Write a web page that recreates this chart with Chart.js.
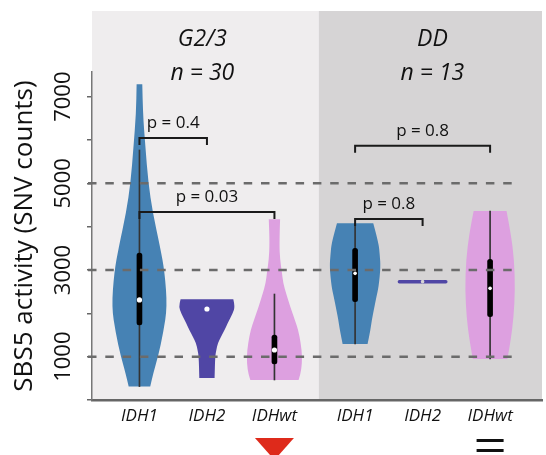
<!DOCTYPE html>
<html><head><meta charset="utf-8">
<script src="https://cdn.jsdelivr.net/npm/chart.js@4"></script>
<style>html,body{margin:0;padding:0;background:#fff;overflow:hidden}</style>
</head><body>
<canvas id="c" width="546" height="455"></canvas>
<script>
// ---------- data ----------
const categories = ['IDH1', 'IDH2', 'IDHwt', 'IDH1', 'IDH2', 'IDHwt'];
const categoryGroup = [0, 0, 0, 1, 1, 1];
const groupTitles = ['G2/3', 'DD'];
const groupSizes = ['n = 30', 'n = 13'];
const yMaxValue = 7570;
const yTickValues = [0, 1000, 2000, 3000, 4000, 5000, 6000, 7000];
const yTickLabels = ['', '1000', '', '3000', '', '5000', '', '7000'];
const referenceLines = [1000, 3000, 5000];

// violin outlines: value levels (top to bottom) and relative density at each level
const violinValues = [
  [7290, 6620, 5840, 5030, 4320, 3530, 2950, 2150, 1550, 1015, 620, 310],
  [2323, 2154, 2000, 1770, 1615, 1461, 1308, 1154, 1000, 538, 508],
  [4170, 3616, 3231, 2962, 2693, 2462, 2231, 2077, 1846, 1615, 1308, 1000, 692, 500, 462],
  [4077, 3623, 3346, 3070, 2608, 2377, 2077, 1846, 1615, 1292],
  [2731, 2731],
  [4362, 3854, 3231, 2539, 1915, 1385, 946]
];
const violinDensity = [
  [0.10, 0.12, 0.21, 0.31, 0.47, 0.73, 0.89, 0.98, 0.84, 0.66, 0.49, 0.38],
  [0.93, 0.99, 0.91, 0.73, 0.62, 0.50, 0.38, 0.33, 0.29, 0.27, 0.27],
  [0.20, 0.17, 0.20, 0.26, 0.31, 0.41, 0.52, 0.60, 0.72, 0.84, 0.93, 0.98, 0.95, 0.87, 0.85],
  [0.64, 0.83, 0.87, 0.90, 0.83, 0.75, 0.66, 0.59, 0.54, 0.44],
  [0.88, 0.88],
  [0.58, 0.73, 0.85, 0.88, 0.83, 0.73, 0.61]
];
const whiskerLow  = [310, null, 462, 1292, null, 946];
const whiskerHigh = [5770, null, 2446, 4077, null, 4362];
const quartile1   = [1730, null, 830, 2270, null, 1923];
const quartile3   = [3390, null, 1500, 3500, null, 3247];
const medians     = [2310, 2100, 1154, 2923, 2731, 2577];

const bracketFrom   = [0, 0, 3, 3];
const bracketTo     = [1, 2, 5, 4];
const bracketValue  = [6047, 4339, 5870, 4177];
const bracketLabels = ['p = 0.4', 'p = 0.03', 'p = 0.8', 'p = 0.8'];

const markerCategory = [2, 5];
const markerKind = ['down', 'equal'];

// ---------- style / layout ----------
const GROUP_GAP = 0.195;
const VIOLIN_HALF = 0.42;
const violinColors = ['#4682B4', '#5046A5', '#DDA0E0', '#4682B4', '#5046A5', '#DDA0E0'];
const panelColors = ['#EFEDEE', '#D6D4D5'];
const FONT = '"Open Sans", "Noto Sans", sans-serif';
const catX = i => i + categoryGroup[i] * GROUP_GAP;

function smoothSide(ctx, p, first) {
  if (first) ctx.moveTo(p[0].x, p[0].y); else ctx.lineTo(p[0].x, p[0].y);
  for (let k = 1; k < p.length - 1; k++) {
    const mx = (p[k].x + p[k + 1].x) / 2, my = (p[k].y + p[k + 1].y) / 2;
    ctx.quadraticCurveTo(p[k].x, p[k].y, mx, my);
  }
  ctx.lineTo(p[p.length - 1].x, p[p.length - 1].y);
}

function panelSplit(chart) {
  const x = chart.scales.x;
  return (x.getPixelForValue(catX(2)) + x.getPixelForValue(catX(3))) / 2 + 4;
}

const panelsPlugin = {
  id: 'panels',
  beforeDraw(chart) {
    const {ctx, chartArea: a} = chart;
    const split = panelSplit(chart);
    const top = a.top - 61;
    ctx.save();
    ctx.fillStyle = panelColors[0];
    ctx.fillRect(a.left, top, split - a.left, a.bottom - top);
    ctx.fillStyle = panelColors[1];
    ctx.fillRect(split, top, a.right - split, a.bottom - top);
    ctx.fillStyle = '#111';
    ctx.font = 'italic 23px ' + FONT;
    ctx.textAlign = 'center';
    ctx.textBaseline = 'alphabetic';
    const centers = [(a.left + split) / 2 - 3, (split + a.right) / 2 + 2];
    groupTitles.forEach((t, g) => {
      ctx.fillText(t, centers[g], a.top - 26.5);
      ctx.fillText(groupSizes[g], centers[g], a.top + 8);
    });
    ctx.restore();
  }
};

const violinPlugin = {
  id: 'violins',
  beforeDatasetsDraw(chart) {
    const {ctx, scales: {x, y}} = chart;
    const unit = x.getPixelForValue(1) - x.getPixelForValue(0);
    const halfMax = VIOLIN_HALF * unit;
    violinValues.forEach((vals, i) => {
      const cx = x.getPixelForValue(catX(i));
      const dens = violinDensity[i];
      ctx.save();
      ctx.fillStyle = violinColors[i];
      ctx.strokeStyle = violinColors[i];
      const top = y.getPixelForValue(vals[0]);
      const bot = y.getPixelForValue(vals[vals.length - 1]);
      if (Math.abs(bot - top) < 1) {
        const w = dens[0] * halfMax;
        ctx.lineWidth = 3.5;
        ctx.lineCap = 'round';
        ctx.beginPath();
        ctx.moveTo(cx - w + 1.75, top);
        ctx.lineTo(cx + w - 1.75, top);
        ctx.stroke();
      } else {
        const pts = vals.map((v, k) => ({y: y.getPixelForValue(v), w: dens[k] * halfMax}));
        ctx.beginPath();
        smoothSide(ctx, pts.map(p => ({x: cx + p.w, y: p.y})), true);
        smoothSide(ctx, pts.slice().reverse().map(p => ({x: cx - p.w, y: p.y})), false);
        ctx.closePath();
        ctx.fill();
      }
      ctx.restore();
    });
  }
};

const annotPlugin = {
  id: 'annot',
  afterDatasetsDraw(chart) {
    const {ctx, chartArea: a, scales: {x, y}} = chart;
    ctx.save();
    ctx.strokeStyle = '#6b6b6b';
    ctx.lineWidth = 2.5;
    ctx.setLineDash([8.5, 8.8]);
    referenceLines.forEach(v => {
      const py = y.getPixelForValue(v);
      ctx.beginPath();
      ctx.moveTo(a.left - 4, py);
      ctx.lineTo(a.right - 28, py);
      ctx.stroke();
    });
    ctx.setLineDash([]);
    ctx.strokeStyle = '#1a1a1a';
    ctx.lineWidth = 2;
    ctx.fillStyle = '#111';
    ctx.font = '17px ' + FONT;
    ctx.textAlign = 'center';
    ctx.textBaseline = 'alphabetic';
    bracketFrom.forEach((f, k) => {
      const x1 = x.getPixelForValue(catX(f));
      const x2 = x.getPixelForValue(catX(bracketTo[k]));
      const py = y.getPixelForValue(bracketValue[k]);
      ctx.beginPath();
      ctx.moveTo(x1, py + 7);
      ctx.lineTo(x1, py);
      ctx.lineTo(x2, py);
      ctx.lineTo(x2, py + 7);
      ctx.stroke();
      ctx.fillText(bracketLabels[k], (x1 + x2) / 2, py - 10);
    });
    ctx.restore();
  },
  afterDraw(chart) {
    const {ctx, chartArea: a, scales: {x}} = chart;
    ctx.save();
    markerCategory.forEach((c, k) => {
      const cx = x.getPixelForValue(catX(c));
      if (markerKind[k] === 'down') {
        ctx.fillStyle = '#DE2A1B';
        ctx.beginPath();
        ctx.moveTo(cx - 19.5, a.bottom + 38);
        ctx.lineTo(cx + 19.5, a.bottom + 38);
        ctx.lineTo(cx, a.bottom + 60);
        ctx.closePath();
        ctx.fill();
      } else {
        ctx.fillStyle = '#111';
        ctx.fillRect(cx - 13.5, a.bottom + 39, 27, 3);
        ctx.fillRect(cx - 13.5, a.bottom + 49, 27, 3);
      }
    });
    ctx.restore();
  }
};

const boxIdx = categories.map((_, i) => i).filter(i => whiskerLow[i] !== null);

new Chart(document.getElementById('c'), {
  type: 'bar',
  data: {
    datasets: [
      {
        type: 'bar', label: 'whisker',
        data: boxIdx.map(i => ({x: catX(i), y: [whiskerLow[i], whiskerHigh[i]]})),
        backgroundColor: '#333', barThickness: 1, grouped: false, order: 3
      },
      {
        type: 'bar', label: 'IQR',
        data: boxIdx.map(i => ({x: catX(i), y: [quartile1[i], quartile3[i]]})),
        backgroundColor: '#000', barThickness: 5, borderRadius: 2.5, borderSkipped: false,
        grouped: false, order: 2
      },
      {
        type: 'scatter', label: 'median',
        data: medians.map((m, i) => ({x: catX(i), y: m})),
        pointRadius: categories.map((_, i) => categoryGroup[i] === 0 ? 2.6 : 1.8),
        pointBackgroundColor: categories.map((_, i) => whiskerLow[i] === null && categoryGroup[i] === 1 ? panelColors[1] : '#fff'),
        pointBorderWidth: 0, order: 1
      }
    ]
  },
  options: {
    responsive: false,
    animation: false,
    events: [],
    layout: {padding: {top: 72, left: 0, right: 0, bottom: 0}},
    plugins: {legend: {display: false}, tooltip: {enabled: false}},
    scales: {
      x: {
        type: 'linear', min: -0.703, max: 5.964, offset: false,
        afterBuildTicks: s => { s.ticks = categories.map((c, i) => ({value: catX(i)})); },
        afterFit: s => { s.height = 55; },
        grid: {display: false, drawTicks: false},
        border: {display: true, color: '#666', width: 2.5},
        ticks: {
          autoSkip: false, maxRotation: 0, minRotation: 0, padding: 6, color: '#111',
          font: {family: FONT, size: 17, style: 'italic'},
          callback: (v, i) => categories[i]
        }
      },
      y: {
        type: 'linear', min: 0, max: yMaxValue,
        afterBuildTicks: s => { s.ticks = yTickValues.map(v => ({value: v})); },
        afterFit: s => { s.width = 92; },
        grid: {drawOnChartArea: false, drawTicks: true, tickLength: 5, color: '#666', lineWidth: 1.5},
        border: {display: true, color: '#777', width: 1.5},
        ticks: {
          autoSkip: false, minRotation: 90, maxRotation: 90, crossAlign: 'center', padding: -2,
          color: '#111', font: {family: FONT, size: 22},
          callback: (v, i) => yTickLabels[i]
        },
        title: {
          display: true, text: 'SBS5 activity (SNV counts)', color: '#111',
          font: {family: FONT, size: 26}, padding: {top: 9, bottom: 0}
        }
      }
    }
  },
  plugins: [panelsPlugin, violinPlugin, annotPlugin]
});
</script>
</body></html>
